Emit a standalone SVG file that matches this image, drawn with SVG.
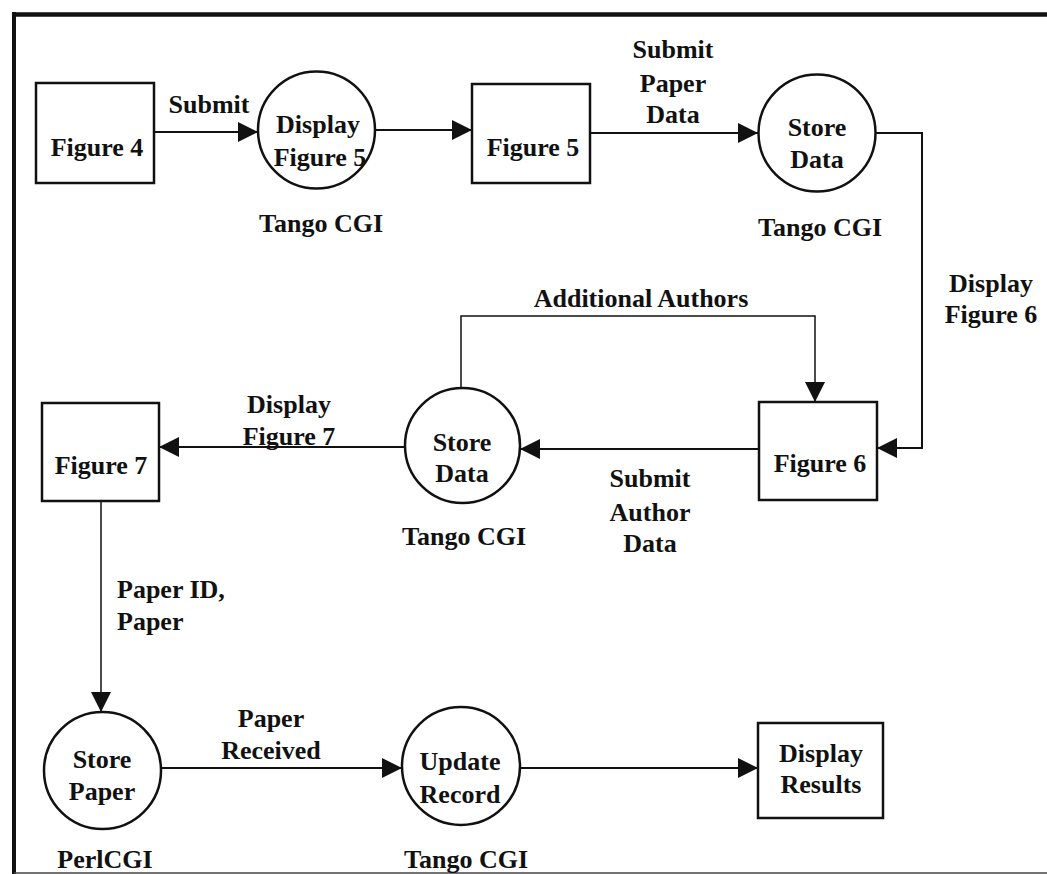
<svg xmlns="http://www.w3.org/2000/svg" width="1047" height="874" viewBox="0 0 1047 874">
<style>
  text { font-family: "Liberation Serif", "Times New Roman", serif; font-weight: bold; font-size: 26px; fill: #111; text-anchor: middle; }
  .shape { fill: #fff; stroke: #111; stroke-width: 2.5; }
  .conn { fill: none; stroke: #111; stroke-width: 2; }
  .thin { stroke-width: 1.5; }
</style>
<defs>
  <marker id="arr" markerUnits="userSpaceOnUse" markerWidth="21" markerHeight="21" refX="20" refY="10" orient="auto">
    <path d="M0,0 L20,10 L0,20 z" fill="#111"/>
  </marker>
</defs>
<rect width="1047" height="874" fill="#fff"/>
<g id="frame" stroke="#111" fill="none">
  <line x1="12" y1="14.5" x2="1047" y2="14.5" stroke-width="4.5"/>
  <line x1="14" y1="12" x2="14" y2="874" stroke-width="4"/>
  <line x1="14" y1="873" x2="1047" y2="873" stroke-width="1.5" stroke="#444"/>
</g>
<g id="connectors">
  <path class="conn" d="M154,132 H258" marker-end="url(#arr)"/>
  <path class="conn" d="M375,130 H472" marker-end="url(#arr)"/>
  <path class="conn" d="M590,133 H758" marker-end="url(#arr)"/>
  <path class="conn" d="M876,133 H922 V448 H877" marker-end="url(#arr)"/>
  <path class="conn" d="M759,449 H520" marker-end="url(#arr)"/>
  <path class="conn thin" d="M461,387 V316 H815 V402" marker-end="url(#arr)"/>
  <path class="conn" d="M405,447 H159" marker-end="url(#arr)"/>
  <path class="conn thin" d="M101,501 V712" marker-end="url(#arr)"/>
  <path class="conn" d="M162,768 H402" marker-end="url(#arr)"/>
  <path class="conn" d="M520,768 H758" marker-end="url(#arr)"/>
  <g id="labels">
    <text x="209" y="113">Submit</text>
    <text x="673" y="58">Submit</text>
    <text x="673" y="92">Paper</text>
    <text x="673" y="123">Data</text>
    <text x="991" y="292">Display</text>
    <text x="991" y="323">Figure 6</text>
    <text x="641" y="307">Additional Authors</text>
    <text x="289" y="413">Display</text>
    <text x="289" y="445">Figure 7</text>
    <text x="650" y="487">Submit</text>
    <text x="650" y="521">Author</text>
    <text x="650" y="552">Data</text>
    <text x="117" y="598" style="text-anchor:start">Paper ID,</text>
    <text x="117" y="630" style="text-anchor:start">Paper</text>
    <text x="271" y="727">Paper</text>
    <text x="271" y="759">Received</text>
  </g>
</g>
<g id="figure4">
  <rect class="shape" x="36" y="83" width="118" height="100"/>
  <text x="97" y="156">Figure 4</text>
</g>
<g id="displayFigure5">
  <circle class="shape" cx="316.5" cy="130" r="58.5"/>
  <text x="318" y="133">Display</text>
  <text x="320" y="166">Figure 5</text>
  <text x="321" y="232">Tango CGI</text>
</g>
<g id="figure5">
  <rect class="shape" x="472" y="84" width="118" height="99"/>
  <text x="533" y="156">Figure 5</text>
</g>
<g id="storeData1">
  <circle class="shape" cx="817" cy="133" r="58.5"/>
  <text x="817" y="136">Store</text>
  <text x="817" y="168">Data</text>
  <text x="820" y="236">Tango CGI</text>
</g>
<g id="figure6">
  <rect class="shape" x="759" y="402" width="118" height="98"/>
  <text x="820" y="472">Figure 6</text>
</g>
<g id="storeData2">
  <circle class="shape" cx="462.5" cy="445.5" r="57.5"/>
  <text x="462" y="451">Store</text>
  <text x="462" y="482">Data</text>
  <text x="464" y="545">Tango CGI</text>
</g>
<g id="figure7">
  <rect class="shape" x="42" y="403" width="117" height="98"/>
  <text x="101" y="474">Figure 7</text>
</g>
<g id="storePaper">
  <circle class="shape" cx="102.5" cy="770.5" r="58.5"/>
  <text x="102" y="768">Store</text>
  <text x="102" y="800">Paper</text>
  <text x="105" y="868">PerlCGI</text>
</g>
<g id="updateRecord">
  <circle class="shape" cx="461" cy="766" r="59"/>
  <text x="460" y="770">Update</text>
  <text x="460" y="803">Record</text>
  <text x="466" y="868">Tango CGI</text>
</g>
<g id="displayResults">
  <rect class="shape" x="758" y="723" width="125" height="95"/>
  <text x="821" y="762">Display</text>
  <text x="821" y="793">Results</text>
</g>
</svg>
